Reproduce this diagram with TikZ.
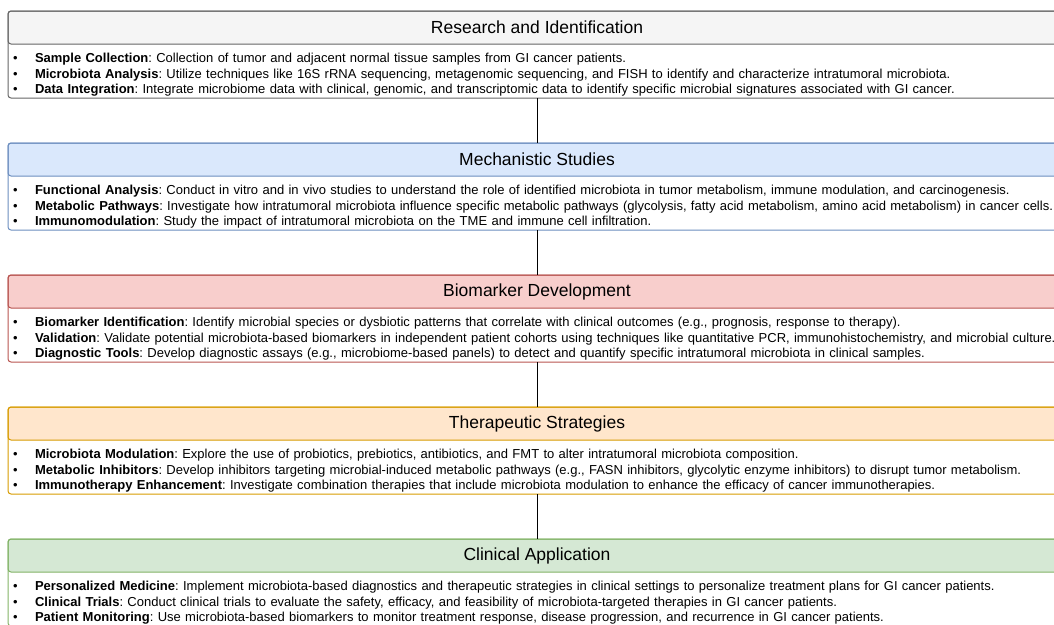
\documentclass[tikz,border=0pt]{standalone}
\usepackage{fontspec}
\setmainfont{Liberation Sans}
\usepackage{xcolor}
\usetikzlibrary{positioning}
\definecolor{RIFill}{HTML}{F5F5F5}
\definecolor{RILine}{HTML}{666666}
\definecolor{MSFill}{HTML}{DAE8FC}
\definecolor{MSLine}{HTML}{6C8EBF}
\definecolor{BDFill}{HTML}{F8CECC}
\definecolor{BDLine}{HTML}{B85450}
\definecolor{TSFill}{HTML}{FFE6CC}
\definecolor{TSLine}{HTML}{D79B00}
\definecolor{CAFill}{HTML}{D5E8D4}
\definecolor{CALine}{HTML}{82B366}
\newcommand{\bpoint}[2]{\mbox{\makebox[22pt][l]{\textbullet}\textbf{#1}: #2}}

\begin{document}
\frenchspacing
\begin{tikzpicture}[x=1pt,y=1pt,
 head/.style 2 args={draw=#2,fill=#1,line width=1pt,rounded corners=3pt,minimum width=1058pt,minimum height=33pt,inner sep=0pt,outer sep=0pt,font=\fontsize{17.5}{20}\selectfont},
 body/.style={text width=1048pt,inner xsep=5pt,inner ysep=0pt,outer sep=0pt,text height=18.5pt,text depth=35.5pt,align=left,font=\fontsize{13}{15.5}\selectfont},
 frame/.style={draw=#1,line width=1pt,rounded corners=3pt},
 link/.style={draw=black,line width=0.8pt}]
\useasboundingbox (0,0) rectangle (1054,-624);
\clip (0,0) rectangle (1054,-624);

% research and identification
\node[head={RIFill}{RILine}] (rid) at (537,-27.5) {Research and Identification};
\node[body,below=0pt of rid] (ridb) {\bpoint{Sample Collection}{Collection of tumor and adjacent normal tissue samples from GI cancer patients.}\\
\bpoint{Microbiota Analysis}{Utilize techniques like 16S rRNA sequencing, metagenomic sequencing, and FISH to identify and characterize intratumoral microbiota.}\\
\bpoint{Data Integration}{Integrate microbiome data with clinical, genomic, and transcriptomic data to identify specific microbial signatures associated with GI cancer.}};
\draw[frame=RILine] (rid.north west) rectangle (ridb.south east);

% mechanistic studies
\node[head={MSFill}{MSLine},below=45pt of ridb] (mst) {Mechanistic Studies};
\node[body,below=0pt of mst] (mstb) {\bpoint{Functional Analysis}{Conduct in vitro and in vivo studies to understand the role of identified microbiota in tumor metabolism, immune modulation, and carcinogenesis.}\\
\bpoint{Metabolic Pathways}{Investigate how intratumoral microbiota influence specific metabolic pathways (glycolysis, fatty acid metabolism, amino acid metabolism) in cancer cells.}\\
\bpoint{Immunomodulation}{Study the impact of intratumoral microbiota on the TME and immune cell infiltration.}};
\draw[frame=MSLine] (mst.north west) rectangle (mstb.south east);

% biomarker development
\node[head={BDFill}{BDLine},below=45pt of mstb] (bmd) {Biomarker Development};
\node[body,below=0pt of bmd] (bmdb) {\bpoint{Biomarker Identification}{Identify microbial species or dysbiotic patterns that correlate with clinical outcomes (e.g., prognosis, response to therapy).}\\
\bpoint{Validation}{Validate potential microbiota-based biomarkers in independent patient cohorts using techniques like quantitative PCR, immunohistochemistry, and microbial culture.}\\
\bpoint{Diagnostic Tools}{Develop diagnostic assays (e.g., microbiome-based panels) to detect and quantify specific intratumoral microbiota in clinical samples.}};
\draw[frame=BDLine] (bmd.north west) rectangle (bmdb.south east);

% therapeutic strategies
\node[head={TSFill}{TSLine},below=45pt of bmdb] (tst) {Therapeutic Strategies};
\node[body,below=0pt of tst] (tstb) {\bpoint{Microbiota Modulation}{Explore the use of probiotics, prebiotics, antibiotics, and FMT to alter intratumoral microbiota composition.}\\
\bpoint{Metabolic Inhibitors}{Develop inhibitors targeting microbial-induced metabolic pathways (e.g., FASN inhibitors, glycolytic enzyme inhibitors) to disrupt tumor metabolism.}\\
\bpoint{Immunotherapy Enhancement}{Investigate combination therapies that include microbiota modulation to enhance the efficacy of cancer immunotherapies.}};
\draw[frame=TSLine] (tst.north west) rectangle (tstb.south east);

% clinical application
\node[head={CAFill}{CALine},below=45pt of tstb] (cap) {Clinical Application};
\node[body,below=0pt of cap] (capb) {\bpoint{Personalized Medicine}{Implement microbiota-based diagnostics and therapeutic strategies in clinical settings to personalize treatment plans for GI cancer patients.}\\
\bpoint{Clinical Trials}{Conduct clinical trials to evaluate the safety, efficacy, and feasibility of microbiota-targeted therapies in GI cancer patients.}\\
\bpoint{Patient Monitoring}{Use microbiota-based biomarkers to monitor treatment response, disease progression, and recurrence in GI cancer patients.}};
\draw[frame=CALine] (cap.north west) rectangle (capb.south east);

% links between the stages
\draw[link] (ridb.south) -- (mst.north);
\draw[link] (mstb.south) -- (bmd.north);
\draw[link] (bmdb.south) -- (tst.north);
\draw[link] (tstb.south) -- (cap.north);
\end{tikzpicture}
\end{document}
